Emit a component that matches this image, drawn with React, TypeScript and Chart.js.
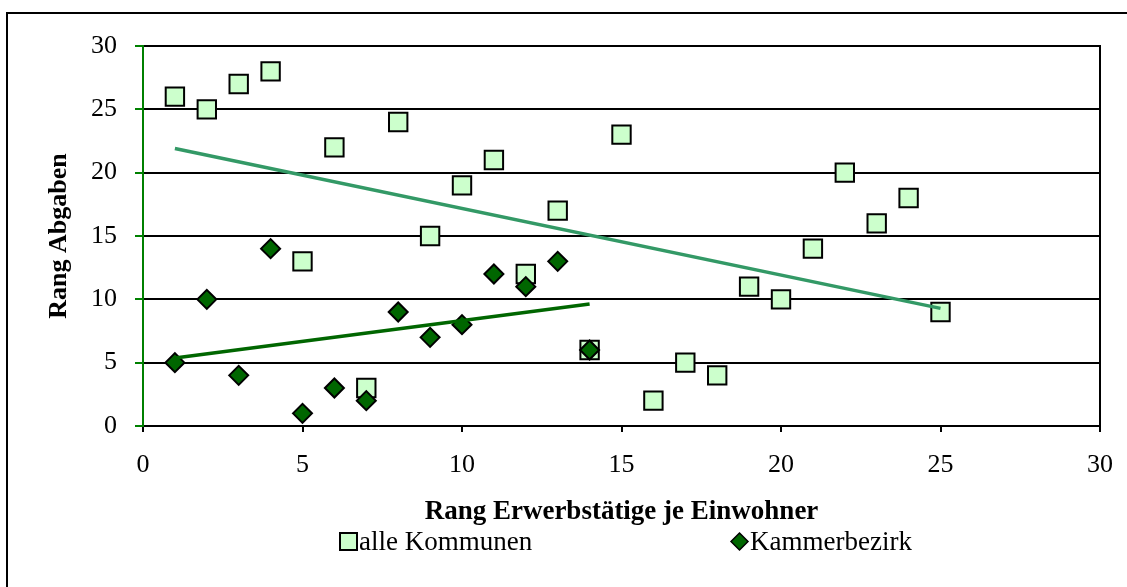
import { useEffect, useRef } from "react";
import { Chart, registerables } from "chart.js";

Chart.register(...registerables);

// ---------- data ----------
const kommunenRangErwerb = [1, 2, 3, 4, 5, 6, 7, 8, 9, 10, 11, 12, 13, 14, 15, 16, 17, 18, 19, 20, 21, 22, 23, 24, 25];
const kommunenRangAbgaben = [26, 25, 27, 28, 13, 22, 3, 24, 15, 19, 21, 12, 17, 6, 23, 2, 5, 4, 11, 10, 14, 20, 16, 18, 9];

const kammerRangErwerb = [1, 2, 3, 4, 5, 6, 7, 8, 9, 10, 11, 12, 13, 14];
const kammerRangAbgaben = [5, 10, 4, 14, 1, 3, 2, 9, 7, 8, 12, 11, 13, 6];

const seriesLabels = ["alle Kommunen", "Kammerbezirk"];
const xAxisTitle = "Rang Erwerbstätige je Einwohner";
const yAxisTitle = "Rang Abgaben";
const axisMin = 0;
const axisMax = 30;
const axisStep = 5;

// ---------- styles ----------
const FONT = "'Liberation Serif', 'Times New Roman', serif";
const COLOR_KOMMUNEN_FILL = "#CCFFCC";
const COLOR_KAMMER_FILL = "#006600";
const COLOR_TREND_KOMMUNEN = "#339966";
const COLOR_TREND_KAMMER = "#006600";
const COLOR_Y_AXIS = "#008000";

// least-squares linear trend (as the spreadsheet's trendline), from min x to max x
function linearTrend(xs: number[], ys: number[]) {
  const n = xs.length;
  const mx = xs.reduce((a, b) => a + b, 0) / n;
  const my = ys.reduce((a, b) => a + b, 0) / n;
  let sxy = 0;
  let sxx = 0;
  for (let i = 0; i < n; i++) {
    sxy += (xs[i] - mx) * (ys[i] - my);
    sxx += (xs[i] - mx) * (xs[i] - mx);
  }
  const slope = sxy / sxx;
  const x0 = Math.min(...xs);
  const x1 = Math.max(...xs);
  return [
    { x: x0, y: my + slope * (x0 - mx) },
    { x: x1, y: my + slope * (x1 - mx) },
  ];
}

const toPoints = (xs: number[], ys: number[]) => xs.map((x, i) => ({ x, y: ys[i] }));

const framePlugin = {
  id: "plotFrame",
  beforeDatasetsDraw(chart: any) {
    const { ctx, chartArea } = chart;
    ctx.save();
    ctx.strokeStyle = "#000";
    ctx.lineWidth = 2;
    ctx.beginPath();
    ctx.moveTo(chartArea.right, chartArea.top - 1);
    ctx.lineTo(chartArea.right, chartArea.bottom);
    ctx.stroke();
    ctx.restore();
  },
};

const legendPlugin = {
  id: "excelLegend",
  afterDraw(chart: any) {
    const { ctx } = chart;
    const ds = chart.data.datasets;
    const baseline = 550;
    ctx.save();
    ctx.font = `27px ${FONT}`;
    ctx.textBaseline = "alphabetic";
    ctx.textAlign = "left";

    // item 1: square
    const a = ds[1];
    ctx.fillStyle = a.backgroundColor;
    ctx.strokeStyle = a.borderColor;
    ctx.lineWidth = 2;
    ctx.fillRect(340, 533, 17, 17);
    ctx.strokeRect(340, 533, 17, 17);
    ctx.fillStyle = "#000";
    ctx.fillText(a.label, 359, baseline);

    // item 2: diamond
    const b = ds[0];
    const cx = 739.5;
    const cy = 541.5;
    const h = 8.5;
    ctx.beginPath();
    ctx.moveTo(cx, cy - h);
    ctx.lineTo(cx + h, cy);
    ctx.lineTo(cx, cy + h);
    ctx.lineTo(cx - h, cy);
    ctx.closePath();
    ctx.fillStyle = b.backgroundColor;
    ctx.fill();
    ctx.strokeStyle = b.borderColor;
    ctx.lineWidth = 1.5;
    ctx.stroke();
    ctx.fillStyle = "#000";
    ctx.fillText(b.label, 750, baseline);
    ctx.restore();
  },
};

export default function App() {
  const canvasRef = useRef<HTMLCanvasElement | null>(null);

  useEffect(() => {
    if (!canvasRef.current) return;
    const chart = new Chart(canvasRef.current, {
      type: "scatter",
      data: {
        datasets: [
          {
            label: seriesLabels[1],
            data: toPoints(kammerRangErwerb, kammerRangAbgaben),
            pointStyle: "rectRot",
            pointRadius: 9.5,
            backgroundColor: COLOR_KAMMER_FILL,
            borderColor: "#000",
            borderWidth: 2,
            order: 1,
          },
          {
            label: seriesLabels[0],
            data: toPoints(kommunenRangErwerb, kommunenRangAbgaben),
            pointStyle: "rect",
            pointRadius: 13,
            backgroundColor: COLOR_KOMMUNEN_FILL,
            borderColor: "#000",
            borderWidth: 2,
            order: 2,
          },
          {
            label: "Trend " + seriesLabels[0],
            data: linearTrend(kommunenRangErwerb, kommunenRangAbgaben),
            showLine: true,
            pointRadius: 0,
            borderColor: COLOR_TREND_KOMMUNEN,
            borderWidth: 3.5,
            backgroundColor: COLOR_TREND_KOMMUNEN,
            order: 0,
          },
          {
            label: "Trend " + seriesLabels[1],
            data: linearTrend(kammerRangErwerb, kammerRangAbgaben),
            showLine: true,
            pointRadius: 0,
            borderColor: COLOR_TREND_KAMMER,
            borderWidth: 3.5,
            backgroundColor: COLOR_TREND_KAMMER,
            order: 0,
          },
        ],
      },
      options: {
        animation: false,
        responsive: true,
        maintainAspectRatio: false,
        devicePixelRatio: 1,
        events: [],
        layout: { padding: { left: 0, top: 46, right: 27, bottom: 0 } },
        plugins: {
          legend: { display: false },
          tooltip: { enabled: false },
          title: { display: false },
        },
        scales: {
          x: {
            type: "linear",
            min: axisMin,
            max: axisMax,
            ticks: {
              stepSize: axisStep,
              color: "#000",
              font: { family: FONT, size: 26 },
              padding: 18,
              maxRotation: 0,
            },
            grid: {
              drawOnChartArea: false,
              drawTicks: true,
              tickLength: 6,
              color: "#000",
              lineWidth: 2,
            },
            border: { display: true, color: "#000", width: 2 },
            title: {
              display: true,
              text: xAxisTitle,
              color: "#000",
              font: { family: FONT, size: 27, weight: "bold" },
              padding: { top: 0, bottom: 59 },
            },
            afterFit: (s: any) => {
              s.height = 161;
              s.paddingLeft = 0;
              s.paddingRight = 0;
            },
          },
          y: {
            type: "linear",
            min: axisMin,
            max: axisMax,
            ticks: {
              stepSize: axisStep,
              color: "#000",
              font: { family: FONT, size: 26 },
              padding: 18,
            },
            grid: {
              color: "#000",
              lineWidth: 2,
              drawTicks: true,
              tickLength: 8,
              tickColor: COLOR_Y_AXIS,
            },
            border: { display: true, color: COLOR_Y_AXIS, width: 2 },
            title: {
              display: true,
              text: yAxisTitle,
              color: "#000",
              font: { family: FONT, size: 26, weight: "bold" },
              padding: { top: 44, bottom: 0 },
            },
            afterFit: (s: any) => {
              s.width = 143;
            },
          },
        },
      },
      plugins: [framePlugin, legendPlugin],
    } as any);
    return () => chart.destroy();
  }, []);

  return (
    <div style={{ position: "fixed", left: 0, top: 0, width: 1127, height: 587, overflow: "hidden", background: "#fff" }}>
      <div
        style={{
          position: "absolute",
          left: 6,
          top: 12,
          width: 1300,
          height: 800,
          border: "2px solid #000",
          boxSizing: "border-box",
        }}
      />
      <div style={{ position: "absolute", left: 0, top: 0, width: 1127, height: 587 }}>
        <canvas ref={canvasRef} style={{ display: "block" }} />
      </div>
    </div>
  );
}
